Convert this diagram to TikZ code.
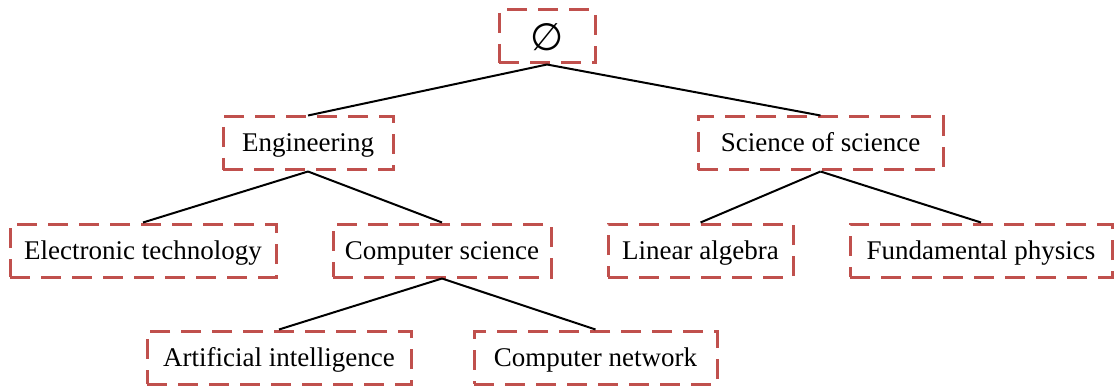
\documentclass[tikz,border=0pt]{standalone}
\usepackage{fontspec}
\setmainfont{Liberation Serif}
\newfontfamily\symfont{DejaVu Sans}
\definecolor{boxred}{RGB}{192,80,77}
\begin{document}
\begin{tikzpicture}[x=1pt,y=-1pt,
  box/.style={draw=boxred, line width=3pt, dash pattern=on 20pt off 11pt,
    minimum height=53pt, inner sep=0pt, font=\fontsize{27}{30}\selectfont},
  lbl/.style={text height=22pt, text depth=5pt},
  edge/.style={draw=black, line width=2pt}]
\useasboundingbox (0,0) rectangle (1115,390);
\node[box, minimum width=96pt, text height=32pt, text depth=4pt, font=\symfont\fontsize{38}{38}\selectfont] (root) at (547,36.5) {∅};
\node[box, lbl, minimum width=170pt] (eng) at (308,143.5) {Engineering};
\node[box, lbl, minimum width=245pt] (sos) at (820.5,143.5) {Science of science};
\node[box, lbl, minimum width=266pt] (et) at (143,250.5) {Electronic technology};
\node[box, lbl, minimum width=218pt] (cs) at (442,250.5) {Computer science};
\node[box, lbl, minimum width=185pt] (la) at (700.5,250.5) {Linear algebra};
\node[box, lbl, minimum width=262pt] (fp) at (981,250.5) {Fundamental physics};
\node[box, lbl, minimum width=264pt] (ai) at (279,357.5) {Artificial intelligence};
\node[box, lbl, minimum width=243pt] (cn) at (595.5,357.5) {Computer network};
\draw[edge] (root.south) -- (eng.north);
\draw[edge] (root.south) -- (sos.north);
\draw[edge] (eng.south) -- (et.north);
\draw[edge] (eng.south) -- (cs.north);
\draw[edge] (sos.south) -- (la.north);
\draw[edge] (sos.south) -- (fp.north);
\draw[edge] (cs.south) -- (ai.north);
\draw[edge] (cs.south) -- (cn.north);
\end{tikzpicture}
\end{document}
